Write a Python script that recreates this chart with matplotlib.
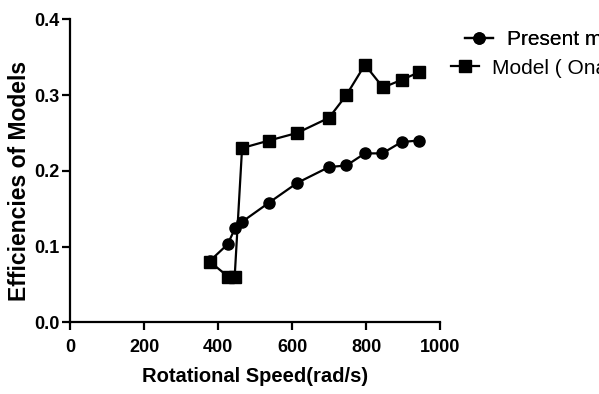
import matplotlib.pyplot as plt
from matplotlib.ticker import FormatStrFormatter

speed_present = [378, 426, 446, 466, 538, 614, 700, 747, 797, 844, 896, 943]
eff_present = [0.081, 0.103, 0.124, 0.133, 0.158, 0.184, 0.205, 0.207, 0.223, 0.223, 0.238, 0.240]

speed_ona = [378, 428, 445, 465, 538, 614, 700, 747, 797, 846, 896, 943]
eff_ona = [0.080, 0.060, 0.060, 0.230, 0.240, 0.250, 0.270, 0.300, 0.340, 0.310, 0.320, 0.330]

label_present = "Present model"
label_ona = "Model ( Onawumi et al. )"

x_ticks = [0, 200, 400, 600, 800, 1000]
y_ticks = [0.0, 0.1, 0.2, 0.3, 0.4]

plt.rcParams["font.family"] = ["Liberation Sans", "DejaVu Sans"]

fig = plt.figure(figsize=(5.99, 3.94), dpi=100)
ax = fig.add_axes([0.1169, 0.182, 0.6177, 0.769])

line_p, = ax.plot(speed_present, eff_present, color="black", lw=1.6,
                  marker="o", markersize=8, clip_on=False)
line_o, = ax.plot(speed_ona, eff_ona, color="black", lw=1.6,
                  marker="s", markersize=8.5, clip_on=False)

ax.set_xlim(0, 1000)
ax.set_ylim(0, 0.4)
ax.set_xticks(x_ticks)
ax.set_yticks(y_ticks)
ax.yaxis.set_major_formatter(FormatStrFormatter("%.1f"))

for side in ["top", "right"]:
    ax.spines[side].set_visible(False)
for side in ["left", "bottom"]:
    ax.spines[side].set_linewidth(1.6)

ax.tick_params(width=1.6, length=6, labelsize=13)
ax.tick_params(axis="x", pad=6)
ax.tick_params(axis="y", pad=1.5)
for lab in ax.get_xticklabels() + ax.get_yticklabels():
    lab.set_fontweight("bold")

ax.set_xlabel("Rotational Speed(rad/s)", fontsize=14.5, fontweight="bold", labelpad=8)
ax.set_ylabel("Efficiencies of Models", fontsize=16.5, fontweight="bold")
ax.yaxis.set_label_coords(-0.105, 0.465)

leg1 = fig.legend([line_p], [label_present], loc="center left",
                  bbox_to_anchor=(0.776, 0.8985), frameon=False, fontsize=15,
                  borderpad=0, borderaxespad=0, handlelength=1.33, handletextpad=0.7)
leg2 = fig.legend([line_o], [label_ona], loc="center left",
                  bbox_to_anchor=(0.753, 0.827), frameon=False, fontsize=15,
                  borderpad=0, borderaxespad=0, handlelength=1.33, handletextpad=0.65)
fig.add_artist(leg1)

fig.savefig("out.png", dpi=100)
